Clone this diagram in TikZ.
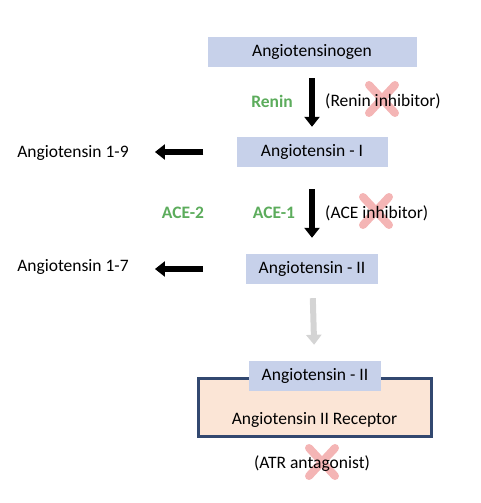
\documentclass[tikz,border=0pt]{standalone}
\usepackage{fontspec}
\setmainfont{Carlito}
\usetikzlibrary{arrows.meta}

\definecolor{boxblue}{RGB}{199,209,234}
\definecolor{peach}{RGB}{251,229,214}
\definecolor{navy}{RGB}{50,72,112}
\definecolor{enzgreen}{RGB}{92,172,92}
\definecolor{crosspink}{RGB}{240,150,150}
\definecolor{lightgrey}{RGB}{212,212,212}

\begin{document}
\begin{tikzpicture}[x=1pt, y=-1pt]
		\tikzset{molecule/.style={fill = boxblue, inner sep = 0pt, minimum height = 30pt, font = \fontsize{17.5}{19}\selectfont}}
		\tikzset{label text/.style={inner sep = 1pt, font = \fontsize{17.5}{19}\selectfont}}
		\tikzset{enzyme/.style={text = enzgreen, inner sep = 1pt, font = \fontsize{17.5}{19}\selectfont\bfseries}}
		\tikzset{fat arrow/.style={line width = 6pt, -{Triangle[width = 15pt, length = 10pt]}}}
		\tikzset{block/.style={crosspink, opacity = 0.7, line width = 8pt, line cap = round}}
		\useasboundingbox (0, 0) rectangle (480, 503);
		%crosses
		\draw[block] (369, 85) -- (395, 113) (369, 113) -- (395, 85);
		\draw[block] (363, 197) -- (389, 225) (363, 225) -- (389, 197);
		\draw[block] (309, 448) -- (335, 476) (309, 476) -- (335, 448);
		%molecules
		\node[molecule, minimum width = 209pt] (agt) at (312, 52) {Angiotensinogen};
		\node[molecule, minimum width = 151pt] (ang1) at (312, 152) {Angiotensin - I};
		\node[molecule, minimum width = 132pt] (ang2) at (312, 269) {Angiotensin - II};
		\node[label text] (a19) at (73, 153) {Angiotensin 1-9};
		\node[label text] (a17) at (73, 267) {Angiotensin 1-7};
		%receptor
		\node[draw = navy, line width = 3pt, fill = peach, minimum width = 233pt, minimum height = 58pt, inner sep = 0pt] (atr) at (314.5, 407) {};
		\node[molecule, minimum width = 132pt] (ang2r) at (315, 376) {Angiotensin - II};
		\node[label text] (atrtext) at (314.5, 420) {Angiotensin II Receptor};
		%enzymes and drugs
		\node[enzyme] (renin) at (272, 101) {Renin};
		\node[enzyme] (ace1) at (274, 213) {ACE-1};
		\node[enzyme] (ace2) at (183, 213) {ACE-2};
		\node[label text, anchor = west] (renininh) at (324, 101) {(Renin inhibitor)};
		\node[label text, anchor = west] (aceinh) at (324, 213) {(ACE inhibitor)};
		\node[label text] (atrant) at (312, 464) {(ATR antagonist)};
		%arrows
		\draw[fat arrow, shorten <= 11pt, shorten >= 10pt] (agt) -- (ang1);
		\draw[fat arrow, shorten <= 22pt, shorten >= 16pt] (ang1) -- (ang2);
		\draw[fat arrow, lightgrey, shorten <= 14pt, shorten >= 16pt] (ang2) -- (ang2r);
		\draw[fat arrow, shorten <= 33pt, shorten >= 25pt] (ang1.west) -- (a19.east |- ang1.west);
		\draw[fat arrow, shorten <= 43pt, shorten >= 25pt] (ang2.west) -- (a17.east |- ang2.west);
\end{tikzpicture}
\end{document}
